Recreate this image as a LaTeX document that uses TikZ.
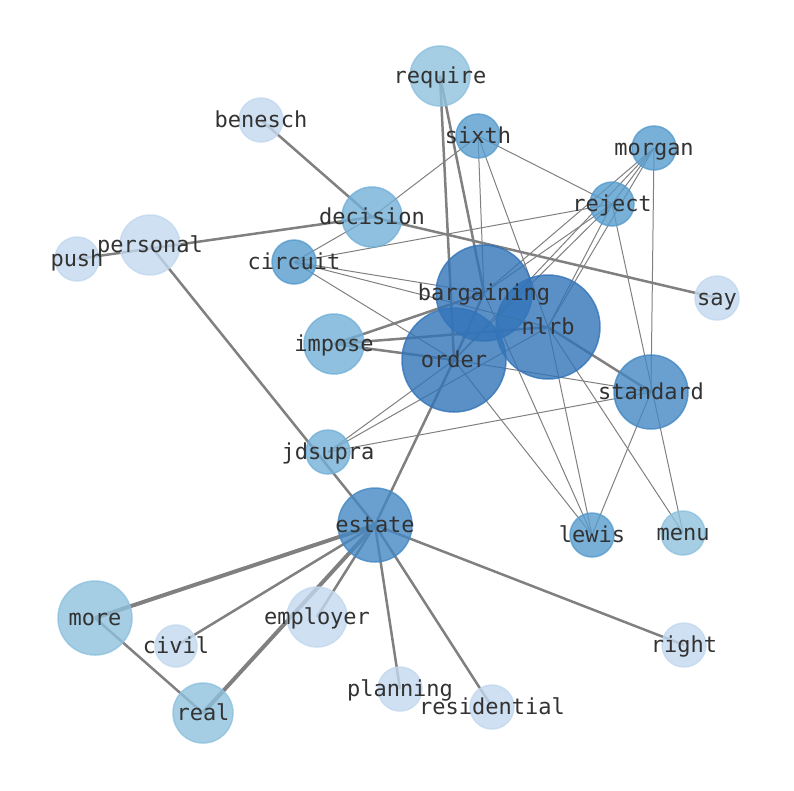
\documentclass[tikz,border=0pt]{standalone}
\usepackage{fontspec}
\usepackage{tikz}
\newfontfamily\labelfont{DejaVu Sans Mono}
\definecolor{b1}{RGB}{50,116,184}
\definecolor{b2}{RGB}{68,136,195}
\definecolor{b3}{RGB}{86,156,206}
\definecolor{b4}{RGB}{115,176,216}
\definecolor{b5}{RGB}{142,193,221}
\definecolor{b6}{RGB}{194,216,238}
\definecolor{ec}{RGB}{128,128,128}
\definecolor{tc}{RGB}{50,50,50}
\pgfdeclarelayer{bg}
\pgfsetlayers{bg,main}

\begin{document}
\begin{tikzpicture}[
  vtx/.style={circle, inner sep=0pt, line width=1.5pt, opacity=0.8},
  lbl/.style={font=\labelfont\fontsize{22}{26}\selectfont, text=tc, inner sep=0pt, text height=0.72em, text depth=0.2em, yshift=-5pt},
  lnk/.style={color=ec, line width=1pt},
  hvy/.style={color=ec, line width=2.5pt},
  xhvy/.style={color=ec, line width=4pt}]
\useasboundingbox (0pt, 0pt) rectangle (794pt, -790pt);
\node (require) [vtx, minimum size=60pt, fill=b5, draw=b5] at (440pt, -76pt) {};
\node (benesch) [vtx, minimum size=44pt, fill=b6, draw=b6] at (261pt, -120pt) {};
\node (sixth) [vtx, minimum size=44pt, fill=b3, draw=b3] at (478pt, -136pt) {};
\node (morgan) [vtx, minimum size=44pt, fill=b3, draw=b3] at (654pt, -148pt) {};
\node (reject) [vtx, minimum size=44pt, fill=b3, draw=b3] at (612pt, -204pt) {};
\node (decision) [vtx, minimum size=60pt, fill=b4, draw=b4] at (372pt, -217pt) {};
\node (personal) [vtx, minimum size=60pt, fill=b6, draw=b6] at (150pt, -245pt) {};
\node (push) [vtx, minimum size=44pt, fill=b6, draw=b6] at (77pt, -259pt) {};
\node (circuit) [vtx, minimum size=44pt, fill=b3, draw=b3] at (294pt, -262pt) {};
\node (bargaining) [vtx, minimum size=96pt, fill=b1, draw=b1] at (484pt, -293pt) {};
\node (say) [vtx, minimum size=44pt, fill=b6, draw=b6] at (717pt, -298pt) {};
\node (nlrb) [vtx, minimum size=104pt, fill=b1, draw=b1] at (548pt, -327pt) {};
\node (impose) [vtx, minimum size=60pt, fill=b4, draw=b4] at (334pt, -344pt) {};
\node (order) [vtx, minimum size=104pt, fill=b1, draw=b1] at (454pt, -360pt) {};
\node (standard) [vtx, minimum size=74pt, fill=b2, draw=b2] at (651pt, -392pt) {};
\node (jdsupra) [vtx, minimum size=44pt, fill=b4, draw=b4] at (328pt, -452pt) {};
\node (estate) [vtx, minimum size=74pt, fill=b2, draw=b2] at (375pt, -525pt) {};
\node (lewis) [vtx, minimum size=44pt, fill=b3, draw=b3] at (592pt, -535pt) {};
\node (menu) [vtx, minimum size=44pt, fill=b5, draw=b5] at (683pt, -533pt) {};
\node (more) [vtx, minimum size=74pt, fill=b5, draw=b5] at (95pt, -618pt) {};
\node (civil) [vtx, minimum size=42pt, fill=b6, draw=b6] at (176pt, -646pt) {};
\node (employer) [vtx, minimum size=60pt, fill=b6, draw=b6] at (317pt, -617pt) {};
\node (right) [vtx, minimum size=44pt, fill=b6, draw=b6] at (684pt, -645pt) {};
\node (planning) [vtx, minimum size=44pt, fill=b6, draw=b6] at (400pt, -689pt) {};
\node (residential) [vtx, minimum size=44pt, fill=b6, draw=b6] at (492pt, -707pt) {};
\node (real) [vtx, minimum size=60pt, fill=b5, draw=b5] at (203pt, -713pt) {};
\begin{pgfonlayer}{bg}
% heavy edges
\draw [hvy] (benesch.center) to (decision.center);
\draw [hvy] (decision.center) to (say.center);
\draw [hvy] (push.center) to (decision.center);
\draw [hvy] (personal.center) to (estate.center);
\draw [hvy] (require.center) to (order.center);
\draw [hvy] (require.center) to (bargaining.center);
\draw [hvy] (impose.center) to (bargaining.center);
\draw [hvy] (impose.center) to (nlrb.center);
\draw [hvy] (impose.center) to (order.center);
\draw [hvy] (bargaining.center) to (order.center);
\draw [hvy] (nlrb.center) to (standard.center);
\draw [hvy] (estate.center) to (order.center);
\draw [xhvy] (estate.center) to (more.center);
\draw [xhvy] (estate.center) to (real.center);
\draw [hvy] (estate.center) to (civil.center);
\draw [hvy] (estate.center) to (employer.center);
\draw [hvy] (estate.center) to (planning.center);
\draw [hvy] (estate.center) to (residential.center);
\draw [hvy] (estate.center) to (right.center);
\draw [hvy] (more.center) to (real.center);
% light edges
\draw [lnk] (sixth.center) to (decision.center);
\draw [lnk] (sixth.center) to (reject.center);
\draw [lnk] (sixth.center) to (bargaining.center);
\draw [lnk] (sixth.center) to (nlrb.center);
\draw [lnk] (circuit.center) to (decision.center);
\draw [lnk] (circuit.center) to (reject.center);
\draw [lnk] (circuit.center) to (bargaining.center);
\draw [lnk] (circuit.center) to (nlrb.center);
\draw [lnk] (circuit.center) to (order.center);
\draw [lnk] (morgan.center) to (reject.center);
\draw [lnk] (morgan.center) to (bargaining.center);
\draw [lnk] (morgan.center) to (order.center);
\draw [lnk] (morgan.center) to (nlrb.center);
\draw [lnk] (morgan.center) to (standard.center);
\draw [lnk] (reject.center) to (bargaining.center);
\draw [lnk] (reject.center) to (order.center);
\draw [lnk] (reject.center) to (nlrb.center);
\draw [lnk] (reject.center) to (menu.center);
\draw [lnk] (jdsupra.center) to (order.center);
\draw [lnk] (jdsupra.center) to (nlrb.center);
\draw [lnk] (jdsupra.center) to (standard.center);
\draw [lnk] (order.center) to (standard.center);
\draw [lnk] (order.center) to (lewis.center);
\draw [lnk] (bargaining.center) to (lewis.center);
\draw [lnk] (nlrb.center) to (lewis.center);
\draw [lnk] (nlrb.center) to (menu.center);
\draw [lnk] (standard.center) to (lewis.center);
\end{pgfonlayer}
% labels on top
\foreach \n in {require,benesch,sixth,morgan,reject,decision,personal,push,circuit,bargaining,say,nlrb,impose,order,standard,jdsupra,estate,lewis,menu,more,civil,employer,right,planning,residential,real}
  \node (\n-t) [lbl] at (\n.center) {\n};
\end{tikzpicture}
\end{document}
